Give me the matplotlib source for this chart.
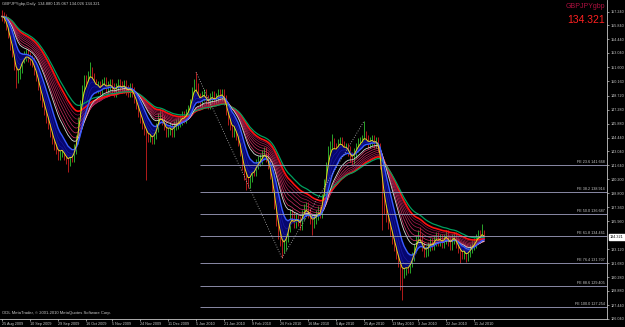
import matplotlib
matplotlib.use("Agg")
import matplotlib.pyplot as plt
import pandas as pd

# GBPJPY daily closes, 25 Aug 2009 .. mid Jul 2010
closes = [
    156.74, 156.54, 155.83, 155.03, 153.82, 153.12, 151.81, 150.50, 150.90, 151.51, 152.51, 152.71, 152.92, 152.61,
    152.31, 152.11, 151.30, 150.70, 149.79, 148.79, 148.08, 147.28, 146.47, 145.87, 145.06, 144.26, 143.65, 143.25,
    142.65, 142.95, 143.25, 142.65, 142.25, 142.04, 142.55, 142.45, 143.25, 144.26, 146.07, 147.78, 149.29, 150.30,
    150.10, 150.70, 151.10, 150.50, 149.90, 149.49, 149.69, 149.29, 149.90, 150.10, 149.49, 149.69, 149.90, 149.49,
    149.09, 149.49, 149.90, 149.69, 149.49, 149.80, 149.29, 149.09, 149.49, 149.09, 148.49, 147.88, 147.08, 146.47,
    145.87, 145.26, 144.86, 144.46, 144.66, 144.26, 144.76, 145.47, 146.47, 146.87, 146.27, 145.67, 145.06, 145.26,
    145.47, 145.06, 145.67, 145.87, 146.07, 146.27, 146.67, 146.47, 146.87, 147.28, 147.88, 149.09, 149.90, 149.49,
    148.49, 148.08, 148.69, 148.89, 148.28, 147.88, 148.49, 148.69, 148.28, 148.49, 148.89, 148.69, 148.89, 148.28,
    147.28, 146.27, 145.67, 145.06, 145.47, 144.66, 144.06, 143.05, 141.64, 140.64, 140.23, 139.83, 140.43, 141.24,
    141.04, 141.74, 142.04, 142.25, 142.65, 142.95, 142.45, 141.74, 140.74, 139.43, 137.72, 136.01, 134.70, 133.99,
    133.19, 133.59, 134.40, 135.40, 136.71, 136.41, 135.80, 136.21, 136.01, 135.60, 136.61, 137.21, 137.41, 136.81,
    136.21, 135.80, 136.21, 136.61, 137.01, 136.81, 138.22, 139.73, 141.44, 143.05, 143.65, 143.86, 143.45, 143.25,
    143.76, 144.06, 143.65, 143.25, 143.45, 143.05, 142.45, 142.25, 142.85, 143.45, 143.86, 144.06, 144.26, 144.66,
    144.26, 143.86, 144.06, 144.26, 143.86, 144.06, 143.45, 141.74, 138.72, 137.21, 136.41, 135.70, 135.00, 134.19,
    133.39, 132.58, 131.78, 131.17, 130.67, 130.97, 131.37, 131.17, 131.78, 132.38, 133.19, 133.99, 134.60, 134.19,
    133.39, 132.78, 132.98, 133.39, 133.79, 133.59, 133.99, 134.40, 133.99, 134.19, 133.79, 134.19, 134.60, 133.99,
    133.59, 134.19, 134.40, 133.79, 133.19, 132.78, 132.58, 132.98, 132.38, 132.78, 133.19, 133.59, 133.79, 134.19,
    134.60, 134.40, 134.88, 134.321,
]
# long wicks that stick out (bar index -> price)
spike_highs = {44: 152.12, 97: 151.10, 165: 144.82, 181: 146.12, 209: 135.38, 240: 135.68, 241: 135.067}
spike_lows = {7: 149.48, 33: 140.96, 72: 140.15, 122: 139.13, 140: 132.23, 155: 134.56, 190: 135.07,
              199: 128.98, 200: 127.97, 229: 131.72, 232: 131.82, 241: 134.026}

date_bars = [0, 14, 28, 42, 55, 69, 83, 97, 111, 125, 139, 153, 167, 181, 195, 208, 222, 236]
date_labels = ["25 Aug 2009", "10 Sep 2009", "29 Sep 2009", "16 Oct 2009", "5 Nov 2009", "24 Nov 2009",
               "11 Dec 2009", "5 Jan 2010", "21 Jan 2010", "9 Feb 2010", "26 Feb 2010", "16 Mar 2010",
               "6 Apr 2010", "25 Apr 2010", "13 May 2010", "3 Jun 2010", "22 Jun 2010", "11 Jul 2010"]

price_ticks = [157.240, 155.840, 154.440, 153.040, 151.600, 150.160, 148.720, 147.280, 145.880, 144.440,
               143.040, 141.640, 140.200, 138.800, 137.360, 135.960, 133.120, 131.680, 130.280, 128.880,
               127.440, 126.040]

# fibo expansion: anchors and levels
zz_bars = [97, 140, 181]
zz_prices = [151.10, 132.23, 146.12]
fe_names = ["FE 23.6", "FE 38.2", "FE 50.0", "FE 61.8", "FE 76.4", "FE 88.6", "FE 100.0"]
fe_prices = [141.668, 138.914, 136.687, 134.461, 131.707, 129.405, 127.254]

last_price = 134.321
ohlc_text = "GBPJPYgbp,Daily  134.880 135.067 134.026 134.321"

FONT = "Liberation Sans"
GREY = "#c8c8c8"

fig = plt.figure(figsize=(6.25, 3.27), dpi=100, facecolor="black")
ax = fig.add_axes([0, 1 - 319 / 327, 607 / 625, 319 / 327], facecolor="black")

n = len(closes)
bars = list(range(n))
opens = [closes[0] + 0.15] + closes[:-1]
pad = 0.5
highs = [spike_highs.get(i, max(opens[i], closes[i]) + pad) for i in bars]
lows = [spike_lows.get(i, min(opens[i], closes[i]) - pad) for i in bars]
cols = ["#30c030" if closes[i] >= opens[i] else "#d02020" for i in bars]
ax.vlines(bars, lows, highs, colors=cols, lw=0.6, zorder=1)

# moving-average ribbons
s = pd.Series(closes)
ema = lambda span: s.ewm(span=span, adjust=False).mean()
fast, mid = ema(3), ema(10)
ax.fill_between(bars, fast, mid, color="#06066e", lw=0, zorder=2)
for sp in [5, 7]:
    ax.plot(bars, ema(sp), color="#1818a0", lw=0.5, zorder=2)
slow_spans = [17, 20, 23, 26, 29, 32]
slow_cols = ["#e03870", "#d03066", "#c0285c", "#b02054", "#a0184c", "#901046"]
for sp, c in zip(slow_spans, slow_cols):
    ax.plot(bars, ema(sp), color=c, lw=0.5, zorder=3)
ax.plot(bars, ema(35), color="#ff1010", lw=1.2, zorder=4)
ax.plot(bars, ema(40), color="#00a060", lw=0.9, zorder=4)
ax.plot(bars, ema(15), color="#d8d8d8", lw=0.6, zorder=5)
ax.plot(bars, mid, color="#3a5cff", lw=1.0, zorder=5)
ax.plot(bars, fast, color="#e8d820", lw=0.7, zorder=6)

# fibo expansion
ax.plot(zz_bars, zz_prices, color="#bbbbbb", lw=0.6, ls=(0, (1, 2)), zorder=7)
for name, p in zip(fe_names, fe_prices):
    ax.hlines(p, 99, 302.5, color="#a0a0c0", lw=0.6, zorder=7)
    ax.text(301.5, p + 0.12, f"{name} {p:.3f}", color=GREY, fontsize=2.7, family=FONT,
            ha="right", va="bottom", zorder=8)

ax.set_xlim(-1, 302.5)
ax.set_ylim(126.035, 158.417)

for side in ["top", "left"]:
    ax.spines[side].set_visible(False)
for side in ["bottom", "right"]:
    ax.spines[side].set_color(GREY)
    ax.spines[side].set_linewidth(0.6)

ax.yaxis.tick_right()
ax.set_yticks(price_ticks)
ax.set_yticklabels([f"{p:.3f}" for p in price_ticks])
ax.set_xticks(date_bars)
ax.set_xticklabels(date_labels, ha="left")
ax.tick_params(colors=GREY, labelsize=2.7, length=1.5, width=0.5, pad=1)
for lbl in ax.get_xticklabels() + ax.get_yticklabels():
    lbl.set_family(FONT)

# last price marker on the axis
ax.annotate(f"{last_price:.3f}", xy=(1.0, last_price), xycoords=("axes fraction", "data"),
            xytext=(2, 0), textcoords="offset points", fontsize=2.7, family=FONT, color="black",
            va="center", ha="left", annotation_clip=False, zorder=10,
            bbox=dict(boxstyle="square,pad=0.3", fc="white", ec="white"))

fig.text(2 / 625, 1 - 2 / 327, ohlc_text, color=GREY, fontsize=3, family=FONT, va="top", ha="left")
fig.text(2 / 625, 1 - 313 / 327, "ODL MetaTrader, \u00a9 2001-2010 MetaQuotes Software Corp.",
         color=GREY, fontsize=3, family=FONT, va="center", ha="left")
fig.text(605 / 625, 1 - 3 / 327, "GBPJPYgbp", color="#b01040", fontsize=5, family=FONT, va="top", ha="right")
fig.text(605 / 625, 1 - 15 / 327, f"{last_price:.3f}", color="#ff2020", fontsize=7.5, family=FONT,
         va="top", ha="right")

fig.savefig("out.png", dpi=100, facecolor="black")
